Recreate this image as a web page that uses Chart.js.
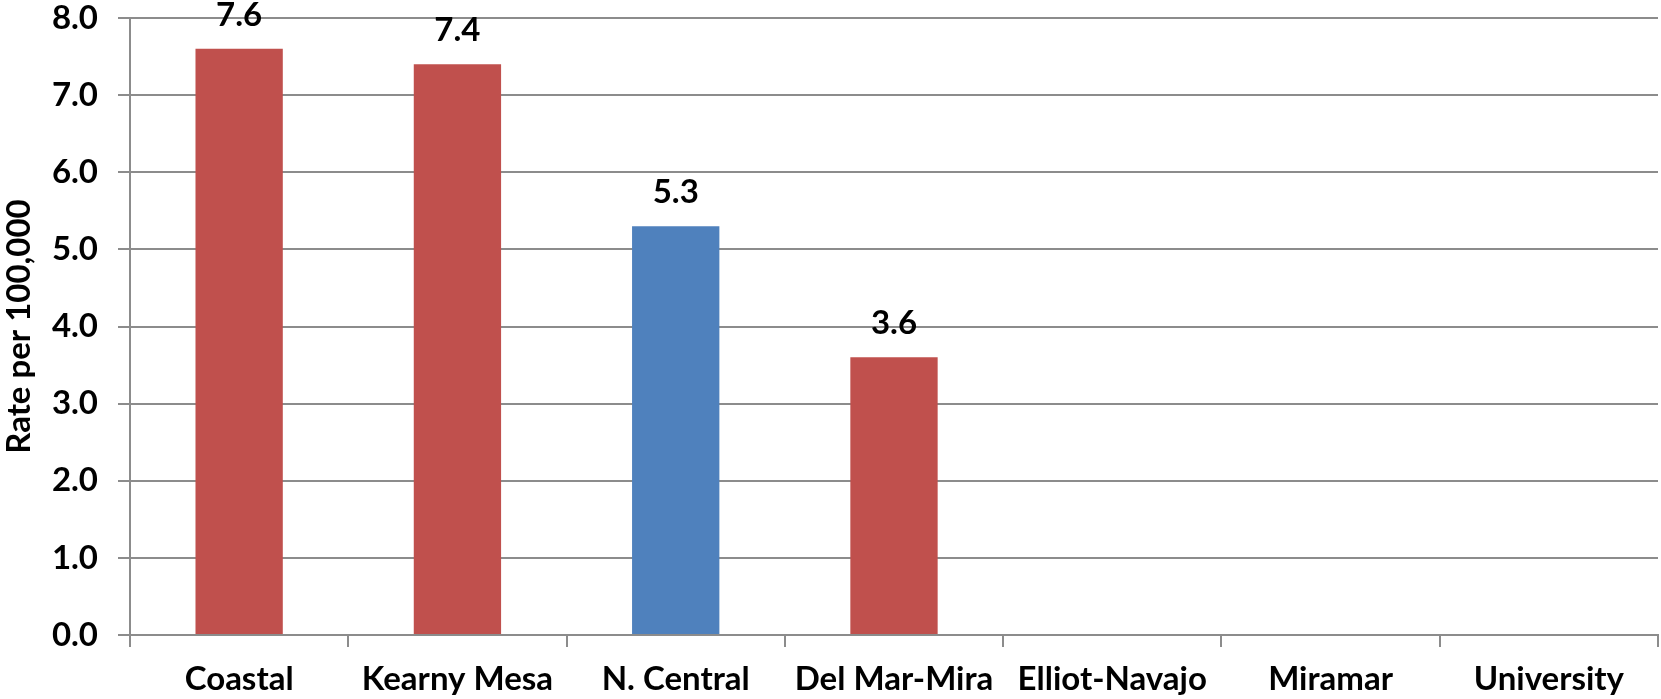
<!DOCTYPE html>
<html>
<head>
<meta charset="utf-8">
<script src="https://cdn.jsdelivr.net/npm/chart.js@4"></script>
<style>
  html, body { margin: 0; padding: 0; background: #fff; }
  #wrap { width: 1661px; height: 699px; }
</style>
</head>
<body>
<div id="wrap"><canvas id="myChart"></canvas></div>
<script>
// Data
const areas = ["Coastal", "Kearny Mesa", "N. Central", "Del Mar-Mira", "Elliot-Navajo", "Miramar", "University"];
const rates = [7.6, 7.4, 5.3, 3.6, null, null, null];
const barColors = ["#C0504D", "#C0504D", "#4F81BD", "#C0504D", "#C0504D", "#C0504D", "#C0504D"];
const yTitle = "Rate per 100,000";

const FONT = "Lato, 'Open Sans', sans-serif";
const gridGray = "#8c8c8c";

// value labels above bars
const valueLabels = {
    id: "valueLabels",
    afterDatasetsDraw(chart) {
        const c = chart.ctx;
        const meta = chart.getDatasetMeta(0);
        c.save();
        c.font = "bold 33px " + FONT;
        c.fillStyle = "#000";
        c.textAlign = "center";
        c.textBaseline = "alphabetic";
        meta.data.forEach((bar, i) => {
            const v = rates[i];
            if (v == null) return;
            c.fillText(v.toFixed(1), bar.x, bar.y - 23);
        });
        c.restore();
    }
};

const ctx = document.getElementById("myChart");
new Chart(ctx, {
    type: "bar",
    data: {
        labels: areas,
        datasets: [{
            data: rates,
            backgroundColor: barColors,
            borderWidth: 0,
            categoryPercentage: 1.0,
            barPercentage: 0.4
        }]
    },
    options: {
        responsive: true,
        maintainAspectRatio: false,
        animation: false,
        layout: { padding: { top: 18, right: 3, left: 0, bottom: 0 } },
        plugins: {
            legend: { display: false },
            tooltip: { enabled: false }
        },
        scales: {
            x: {
                offset: true,
                grid: {
                    offset: true,
                    drawOnChartArea: false,
                    drawTicks: true,
                    tickLength: 12,
                    color: gridGray,
                    lineWidth: 2
                },
                border: { color: gridGray, width: 2 },
                ticks: {
                    color: "#000",
                    font: { family: FONT, size: 33, weight: "bold" },
                    padding: 13,
                    maxRotation: 0,
                    autoSkip: false
                },
                afterFit(scale) {
                    scale.height = 64;
                    scale.paddingLeft = 0;
                    scale.paddingRight = 0;
                }
            },
            y: {
                min: 0,
                max: 8,
                ticks: {
                    stepSize: 1,
                    color: "#000",
                    font: { family: FONT, size: 33, weight: "bold" },
                    padding: 20,
                    callback: (v) => v.toFixed(1)
                },
                grid: {
                    color: gridGray,
                    lineWidth: 2,
                    tickLength: 12
                },
                border: { color: gridGray, width: 2 },
                title: {
                    display: true,
                    text: yTitle,
                    color: "#000",
                    font: { family: FONT, size: 33, weight: "bold" },
                    padding: { top: 0, bottom: 0 }
                },
                afterFit(scale) {
                    scale.width = 130;
                    scale.paddingTop = 0;
                    scale.paddingBottom = 0;
                }
            }
        }
    },
    plugins: [valueLabels]
});
</script>
</body>
</html>
